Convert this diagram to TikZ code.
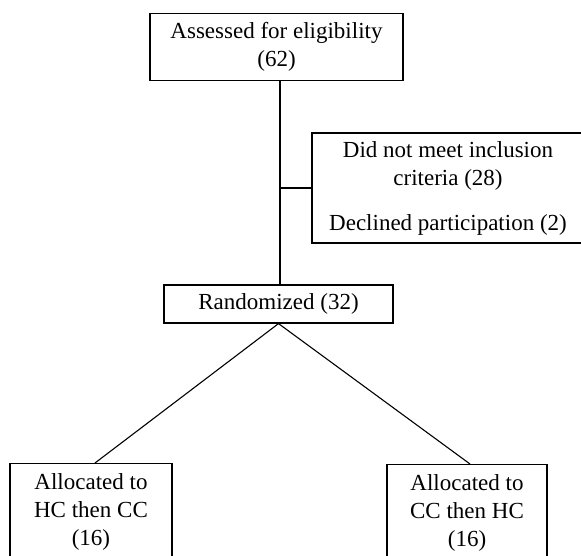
\documentclass[tikz,border=0pt]{standalone}
\usepackage{fontspec}
\setmainfont{Liberation Serif}
\begin{document}
\begin{tikzpicture}[x=1pt,y=1pt,
  box/.style={draw, line width=1.2pt, rectangle, align=center, inner sep=0pt,
    font=\fontsize{23}{28}\selectfont},
  link/.style={line width=1.1pt}]
\clip (0,0) rectangle (581,556);
% boxes
\node[box, minimum width=253, minimum height=67] (assess) at (276.5,509)
  {Assessed for eligibility\\(62)};
\node[box, minimum width=272, minimum height=110] (excl) at (448,368)
  {Did not meet inclusion\\criteria (28)\\[17pt]Declined participation (2)};
\node[box, minimum width=229, minimum height=38] (rand) at (278.5,252)
  {Randomized (32)};
\node[box, minimum width=162, minimum height=97, anchor=north] (hc) at (91,93)
  {Allocated to\\HC then CC\\(16)};
\node[box, minimum width=160, minimum height=97, anchor=north] (cc) at (467,92)
  {Allocated to\\CC then HC\\(16)};
% connectors
\coordinate (trunk) at (280,368);
\draw[link] (trunk |- assess.south) -- (trunk |- rand.north);
\draw[link] (trunk |- excl.west) -- (excl.west);
\draw[link] (rand.south) -- ([xshift=4pt]hc.north);
\draw[link] (rand.south) -- ([xshift=3pt]cc.north);
\end{tikzpicture}
\end{document}
